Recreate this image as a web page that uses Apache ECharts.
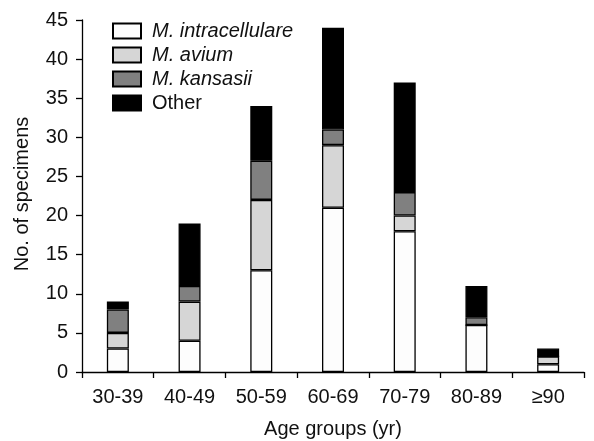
<!DOCTYPE html>
<html><head><meta charset="utf-8">
<script src="https://cdn.jsdelivr.net/npm/echarts@6/dist/echarts.min.js"></script>
<style>html,body{margin:0;padding:0;background:#fff}#c{width:594px;height:441px}</style>
</head><body><div id="c"></div>
<script>
var categories = ['30-39','40-49','50-59','60-69','70-79','80-89','\u226590'];
var intracellulare = [3, 4, 13, 21, 18, 6, 1];
var avium = [2, 5, 9, 8, 2, 0, 1];
var kansasii = [3, 2, 5, 2, 3, 1, 0];
var other = [1, 8, 7, 13, 14, 4, 1];
var yTicks = [0, 5, 10, 15, 20, 25, 30, 35, 40, 45];

var FONT = '"Liberation Sans", Arial, sans-serif';
var names = ['M. intracellulare', 'M. avium', 'M. kansasii', 'Other'];
var colors = ['#fdfdfd', '#d6d6d6', '#808080', '#000000'];
var datas = [intracellulare, avium, kansasii, other];

var series = names.map(function (n, i) {
  return {
    name: n, type: 'bar', stack: 'all', data: datas[i], barWidth: 22,
    itemStyle: { color: colors[i], borderColor: '#000', borderWidth: 1.3 },
    emphasis: { disabled: true }
  };
});

var chart = echarts.init(document.getElementById('c'), null, { renderer: 'canvas' });
chart.setOption({
  animation: false,
  textStyle: { fontFamily: FONT },
  grid: { left: 82, right: 10, top: 20, bottom: 69, containLabel: false, outerBoundsMode: 'none' },
  legend: {
    orient: 'vertical', left: 107, top: 16,
    icon: 'rect',
    itemWidth: 28, itemHeight: 15, itemGap: 4,
    data: names,
    formatter: function (n) { return n === 'Other' ? n : '{i|' + n + '}'; },
    textStyle: {
      fontFamily: FONT, fontSize: 20, color: '#111', padding: [0, 0, 0, 6],
      rich: { i: { fontStyle: 'italic', fontFamily: FONT, fontSize: 20, color: '#111' } }
    }
  },
  xAxis: {
    type: 'category', data: categories,
    name: 'Age groups (yr)', nameLocation: 'middle', nameGap: 47,
    nameTextStyle: { fontFamily: FONT, fontSize: 20, color: '#111' },
    axisLine: { lineStyle: { color: '#000', width: 1.3 } },
    axisTick: { show: true, length: 6, alignWithLabel: false, lineStyle: { color: '#000', width: 1.3 } },
    axisLabel: { fontFamily: FONT, fontSize: 20, color: '#111', margin: 15 }
  },
  yAxis: {
    type: 'value', min: 0, max: 45, interval: 5,
    name: 'No. of specimens', nameLocation: 'middle', nameGap: 50,
    nameTextStyle: { fontFamily: FONT, fontSize: 20, color: '#111', padding: [0, 0, 0, 4] },
    axisLine: { show: true, lineStyle: { color: '#000', width: 1.3 } },
    axisTick: { show: true, length: 6, lineStyle: { color: '#000', width: 1.3 } },
    splitLine: { show: false },
    axisLabel: {
      fontFamily: FONT, fontSize: 20, color: '#111', margin: 14,
      formatter: function (v) { return yTicks.indexOf(v) >= 0 ? String(v) : ''; }
    }
  },
  series: series
});
</script>
</body></html>
